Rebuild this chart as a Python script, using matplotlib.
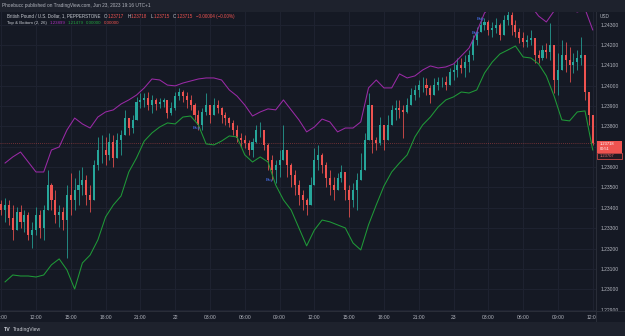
import numpy as np
import matplotlib
matplotlib.use("Agg")
import matplotlib.pyplot as plt
from matplotlib.patches import Rectangle
from matplotlib.lines import Line2D

plt.rcParams['font.family'] = ['Liberation Sans', 'DejaVu Sans']

# ---------------- data (time in hours since Jun 21 00:00, 20-minute bars) ----------------
bar_start = 9.0
bar_hours = 1 / 3
first_open = 1.23420

closes = [1.23389, 1.23414, 1.23350, 1.23291, 1.23380, 1.23331, 1.23365, 1.23267, 1.23291, 1.23365,
          1.23301, 1.23389, 1.23512, 1.23439, 1.23365, 1.23380, 1.23340, 1.23463, 1.23439, 1.23488,
          1.23512, 1.23537, 1.23463, 1.23439, 1.23611, 1.23684, 1.23684, 1.23660, 1.23723, 1.23645,
          1.23733, 1.23758, 1.23841, 1.23792, 1.23832, 1.23920, 1.23930, 1.23940, 1.23905, 1.23930,
          1.23910, 1.23920, 1.23930, 1.23866, 1.23891, 1.23949, 1.23969, 1.23949, 1.23930, 1.23905,
          1.23856, 1.23807, 1.23871, 1.23905, 1.23856, 1.23905, 1.23891, 1.23856, 1.23841, 1.23817,
          1.23782, 1.23743, 1.23733, 1.23719, 1.23684, 1.23723, 1.23782, 1.23782, 1.23709, 1.23635,
          1.23586, 1.23611, 1.23635, 1.23684, 1.23611, 1.23561, 1.23512, 1.23463, 1.23439, 1.23414,
          1.23512, 1.23635, 1.23660, 1.23611, 1.23547, 1.23512, 1.23488, 1.23547, 1.23576, 1.23488,
          1.23439, 1.23488, 1.23537, 1.23586, 1.23733, 1.23905, 1.23733, 1.23719, 1.23807, 1.23733,
          1.23807, 1.23881, 1.23891, 1.23881, 1.23871, 1.23905, 1.23954, 1.23979, 1.24003, 1.24003,
          1.23989, 1.23954, 1.24003, 1.24018, 1.24018, 1.24003, 1.24067, 1.24077, 1.24102, 1.24087,
          1.24116, 1.24151, 1.24225, 1.24264, 1.24298, 1.24313, 1.24274, 1.24283, 1.24298, 1.24249,
          1.24323, 1.24347, 1.24298, 1.24264, 1.24234, 1.24215, 1.24225, 1.24234, 1.24151, 1.24136,
          1.24175, 1.24166, 1.24200, 1.24028, 1.24077, 1.24151, 1.24126, 1.24102, 1.24116, 1.24136,
          1.24151, 1.23969, 1.23856, 1.23718]

highs = [1.23439, 1.23449, 1.23439, 1.23414, 1.23403, 1.23414, 1.23389, 1.23380, 1.23331, 1.23403,
         1.23389, 1.23414, 1.23586, 1.23522, 1.23488, 1.23414, 1.23403, 1.23512, 1.23571, 1.23547,
         1.23586, 1.23601, 1.23561, 1.23512, 1.23635, 1.23748, 1.23758, 1.23748, 1.23768, 1.23758,
         1.23768, 1.23782, 1.23881, 1.23841, 1.23856, 1.23945, 1.23964, 1.23964, 1.23969, 1.23954,
         1.23940, 1.23940, 1.23940, 1.23905, 1.23920, 1.23969, 1.23989, 1.23979, 1.23969, 1.23954,
         1.23915, 1.23881, 1.23891, 1.23964, 1.23905, 1.23940, 1.23930, 1.23895, 1.23871, 1.23846,
         1.23832, 1.23807, 1.23768, 1.23758, 1.23733, 1.23743, 1.23807, 1.23822, 1.23782, 1.23719,
         1.23660, 1.23635, 1.23684, 1.23807, 1.23660, 1.23620, 1.23586, 1.23537, 1.23488, 1.23449,
         1.23552, 1.23694, 1.23709, 1.23669, 1.23625, 1.23586, 1.23552, 1.23571, 1.23611, 1.23576,
         1.23512, 1.23522, 1.23571, 1.23669, 1.23768, 1.23964, 1.23891, 1.23748, 1.23846, 1.23807,
         1.23856, 1.23905, 1.23930, 1.23930, 1.23905, 1.23940, 1.23989, 1.24003, 1.24028, 1.24043,
         1.24038, 1.24003, 1.24038, 1.24043, 1.24043, 1.24048, 1.24087, 1.24112, 1.24136, 1.24136,
         1.24151, 1.24175, 1.24249, 1.24288, 1.24337, 1.24333, 1.24323, 1.24313, 1.24333, 1.24308,
         1.24347, 1.24382, 1.24362, 1.24323, 1.24283, 1.24264, 1.24249, 1.24274, 1.24215, 1.24175,
         1.24200, 1.24210, 1.24308, 1.24151, 1.24161, 1.24225, 1.24215, 1.24190, 1.24161, 1.24175,
         1.24239, 1.24116, 1.23964, 1.23856]

lows = [1.23365, 1.23331, 1.23316, 1.23242, 1.23291, 1.23301, 1.23281, 1.23242, 1.23203, 1.23267,
        1.23252, 1.23242, 1.23414, 1.23389, 1.23326, 1.23306, 1.23291, 1.23154, 1.23365, 1.23389,
        1.23414, 1.23463, 1.23414, 1.23380, 1.23439, 1.23586, 1.23620, 1.23611, 1.23635, 1.23601,
        1.23684, 1.23660, 1.23758, 1.23758, 1.23768, 1.23856, 1.23891, 1.23895, 1.23881, 1.23866,
        1.23881, 1.23891, 1.23895, 1.23841, 1.23856, 1.23881, 1.23930, 1.23920, 1.23891, 1.23881,
        1.23832, 1.23782, 1.23782, 1.23856, 1.23817, 1.23856, 1.23866, 1.23817, 1.23807, 1.23797,
        1.23758, 1.23723, 1.23699, 1.23694, 1.23660, 1.23650, 1.23719, 1.23748, 1.23684, 1.23586,
        1.23537, 1.23522, 1.23552, 1.23635, 1.23552, 1.23502, 1.23463, 1.23414, 1.23389, 1.23365,
        1.23439, 1.23537, 1.23586, 1.23571, 1.23502, 1.23463, 1.23439, 1.23488, 1.23527, 1.23439,
        1.23355, 1.23403, 1.23389, 1.23537, 1.23601, 1.23807, 1.23669, 1.23684, 1.23709, 1.23684,
        1.23733, 1.23807, 1.23832, 1.23841, 1.23743, 1.23866, 1.23905, 1.23930, 1.23945, 1.23969,
        1.23954, 1.23915, 1.23954, 1.23979, 1.23994, 1.23979, 1.24003, 1.24028, 1.24043, 1.24062,
        1.24043, 1.24067, 1.24126, 1.24200, 1.24264, 1.24274, 1.24249, 1.24239, 1.24259, 1.24225,
        1.24249, 1.24298, 1.24249, 1.24239, 1.24210, 1.24190, 1.24190, 1.24200, 1.24112, 1.24112,
        1.24126, 1.24136, 1.24126, 1.23964, 1.23954, 1.24077, 1.24067, 1.24018, 1.24062, 1.24077,
        1.24102, 1.23930, 1.23807, 1.23709]

# Top & Bottom (2, 26) indicator, sampled every 40 minutes
line_start = 9.0 + 1 / 3
line_hours = 2 / 3
top_line = [1.23620, 1.23650, 1.23674, 1.23625, 1.23576, 1.23576, 1.23684, 1.23699, 1.23782, 1.23841,
            1.23812, 1.23792, 1.23846, 1.23871, 1.23881, 1.23910, 1.23930, 1.23954, 1.23989, 1.24033,
            1.24028, 1.24003, 1.23999, 1.24013, 1.24023, 1.24033, 1.24038, 1.24038, 1.24028, 1.23979,
            1.23949, 1.23905, 1.23851, 1.23871, 1.23886, 1.23881, 1.23930, 1.23881, 1.23832, 1.23773,
            1.23797, 1.23836, 1.23822, 1.23773, 1.23792, 1.23792, 1.23822, 1.23989, 1.24028, 1.23989,
            1.23989, 1.24058, 1.24038, 1.24048, 1.24077, 1.24097, 1.24087, 1.24092, 1.24107, 1.24146,
            1.24185, 1.24264, 1.24357, 1.24396, 1.24421, 1.24421, 1.24421, 1.24411, 1.24392, 1.24342,
            1.24313, 1.24367, 1.24367, 1.24377, 1.24362, 1.24377, 1.24274]
bottom_line = [1.23036, 1.23070, 1.23065, 1.23065, 1.23060, 1.23070, 1.23120, 1.23149, 1.23095, 1.23001,
               1.23129, 1.23168, 1.23242, 1.23355, 1.23414, 1.23458, 1.23576, 1.23645, 1.23728, 1.23768,
               1.23797, 1.23817, 1.23812, 1.23846, 1.23851, 1.23807, 1.23714, 1.23709, 1.23728, 1.23753,
               1.23748, 1.23660, 1.23625, 1.23650, 1.23625, 1.23512, 1.23439, 1.23389, 1.23301, 1.23213,
               1.23291, 1.23340, 1.23331, 1.23316, 1.23301, 1.23227, 1.23193, 1.23316, 1.23414, 1.23507,
               1.23576, 1.23620, 1.23660, 1.23748, 1.23807, 1.23846, 1.23895, 1.23930, 1.23945, 1.23969,
               1.23964, 1.23979, 1.24062, 1.24116, 1.24156, 1.24175, 1.24195, 1.24141, 1.24136, 1.24107,
               1.24048, 1.23949, 1.23832, 1.23827, 1.23871, 1.23876, 1.23684]

marker_t = [25.88, 32.17, 49.93, 50.36]
marker_p = [1.23792, 1.23537, 1.24259, 1.24328]

last_price = 1.23718
price_ticks = [1.229, 1.230, 1.231, 1.232, 1.233, 1.234, 1.235, 1.236, 1.237, 1.238, 1.239,
               1.240, 1.241, 1.242, 1.243]
hidden_tick = 1.237  # covered by the last-price box
time_ticks = [9, 12, 15, 18, 21, 24, 27, 30, 33, 36, 39, 42, 45, 48, 51, 54, 57, 60]
time_labels = ["09:00", "12:00", "15:00", "18:00", "21:00", "22", "03:00", "06:00", "09:00",
               "12:00", "15:00", "18:00", "21:00", "23", "03:00", "06:00", "09:00", "12:00"]

# ---------------- styling ----------------
BG = '#151924'
PANEL = '#1e222d'
GRID = '#1f2331'
TXT = '#b2b5be'
LEG = '#c7cad1'
UP = '#26a69a'
DOWN = '#ef5350'

W, H = 625, 336
def fx(px):
    return px / W
def fy(py):
    return 1 - py / H

fig = plt.figure(figsize=(W / 100, H / 100), dpi=100, facecolor=BG)
ax = fig.add_axes([0, fy(311), fx(596), (311 - 12) / H])
ax.set_facecolor(BG)
ax.set_xlim(8.897, 60.28)
ax.set_ylim(1.22893, 1.24362)

for s in ax.spines.values():
    s.set_visible(False)

ax.set_yticks(price_ticks)
ax.set_yticklabels(["" if abs(p - hidden_tick) < 1e-9 else f"{p:.5f}" for p in price_ticks])
ax.yaxis.tick_right()
ax.tick_params(axis='y', length=0, pad=3.0, labelsize=3.6, labelcolor=TXT)
ax.set_xticks(time_ticks)
ax.set_xticklabels(time_labels)
ax.tick_params(axis='x', length=0, pad=2.6, labelsize=3.6, labelcolor=TXT)
ax.grid(True, color=GRID, lw=0.7, zorder=0)
ax.set_axisbelow(True)

# candles
c = np.array(closes)
hi = np.array(highs)
lo = np.array(lows)
o = np.concatenate([[first_open], c[:-1]])
t = bar_start + bar_hours * np.arange(len(c))
up = c >= o
cols = np.where(up, UP, DOWN)
wick_lo = np.minimum(lo, np.minimum(o, c))
wick_hi = np.maximum(hi, np.maximum(o, c))
ax.vlines(t, wick_lo, wick_hi, colors=cols, lw=0.55, zorder=3)
body_lo = np.minimum(o, c)
body_h = np.maximum(np.abs(c - o), 0.00002)
ax.bar(t, body_h, bottom=body_lo, width=0.18, color=cols, lw=0, zorder=4)

# indicator lines
lt = line_start + line_hours * np.arange(len(top_line))
ax.plot(lt, top_line, color='#9a2aa6', lw=0.75, zorder=5)
ax.plot(lt, bottom_line, color='#1f9a38', lw=0.75, zorder=5)

# markers
for mt, mp in zip(marker_t, marker_p):
    ax.text(mt, mp, "Buy", color='#3d5fc4', fontsize=3.0, fontweight='bold',
            ha='center', va='center', zorder=6)

# last price line
ax.axhline(last_price, color=DOWN, lw=0.6, ls=(0, (1, 1.5)), alpha=0.55, zorder=2)

# ---------------- frame elements ----------------
fig.add_artist(Rectangle((fx(596), 0), 1 - fx(596), fy(311), transform=fig.transFigure,
                         facecolor=BG, edgecolor='none', zorder=5))
fig.add_artist(Line2D([fx(596), fx(596)], [fy(322), fy(12)], transform=fig.transFigure,
                      color='#2a2e39', lw=0.7, zorder=6))
fig.add_artist(Line2D([0, 1], [fy(311), fy(311)], transform=fig.transFigure,
                      color='#2a2e39', lw=0.7, zorder=6))
fig.add_artist(Rectangle((0, fy(11.5)), 1, 11.5 / H, transform=fig.transFigure,
                         facecolor=PANEL, edgecolor='none', zorder=7))
fig.add_artist(Rectangle((0, 0), 1, 14 / H, transform=fig.transFigure,
                         facecolor=PANEL, edgecolor='none', zorder=7))

fig.text(fx(2), fy(5.6), "Phoebucc published on TradingView.com, Jun 23, 2023 19:16 UTC+1",
         fontsize=3.4, color=TXT, va='center', ha='left', zorder=8)

renderer = fig.canvas.get_renderer()

def text_row(parts, x0, ypx, fs):
    x = x0
    for s, col, gap in parts:
        tx = fig.text(fx(x), fy(ypx), s, fontsize=fs, color=col, va='center', ha='left', zorder=8)
        x += tx.get_window_extent(renderer).width + gap
    return x

row1 = [("British Pound / U.S. Dollar, 1, PEPPERSTONE", LEG, 3.2),
        ("O", LEG, 0.3), ("1.23717", DOWN, 3.2),
        ("H", LEG, 0.3), ("1.23718", DOWN, 3.2),
        ("L", LEG, 0.3), ("1.23715", DOWN, 3.2),
        ("C", LEG, 0.3), ("1.23715", DOWN, 3.2),
        ("\u22120.00004 (\u22120.00%)", DOWN, 0)]
text_row(row1, 7.3, 16.2, 3.25)

row2 = [("Top & Bottom (2, 26)", LEG, 2.4),
        ("1.23899", '#b02fc0', 2.2), ("1.21479", '#22a33f', 2.2),
        ("0.00000", '#22a33f', 2.2), ("0.00000", DOWN, 0)]
text_row(row2, 7.3, 23.3, 3.15)

fig.text(fx(600), fy(16), "USD", fontsize=3.4, color=TXT, va='center', ha='left', zorder=8)

# last price boxes
fig.add_artist(Rectangle((fx(597), fy(152.5)), fx(25), 11.5 / H, transform=fig.transFigure,
                         facecolor=DOWN, edgecolor='none', zorder=9))
fig.text(fx(599.5), fy(143.6), "1.23718", fontsize=2.9, color='white', va='center',
         ha='left', zorder=10)
fig.text(fx(599.5), fy(149.5), "00:51", fontsize=2.9, color='white', va='center',
         ha='left', zorder=10)
fig.add_artist(Rectangle((fx(597), fy(158.5)), fx(25), 5.5 / H, transform=fig.transFigure,
                         facecolor='#241a22', edgecolor=DOWN, lw=0.5, zorder=9))
fig.text(fx(599.5), fy(155.7), "1.23707", fontsize=3.0, color='#e57373', va='center',
         ha='left', zorder=10)

# footer logo
fig.text(fx(4), fy(329.5), "TV", fontsize=3.8, fontweight='bold', color='#d1d4dc',
         va='center', ha='left', zorder=8)
fig.text(fx(12.5), fy(329.5), "TradingView", fontsize=3.6, color=LEG,
         va='center', ha='left', zorder=8)

fig.savefig("out.png", dpi=100, facecolor=BG)
